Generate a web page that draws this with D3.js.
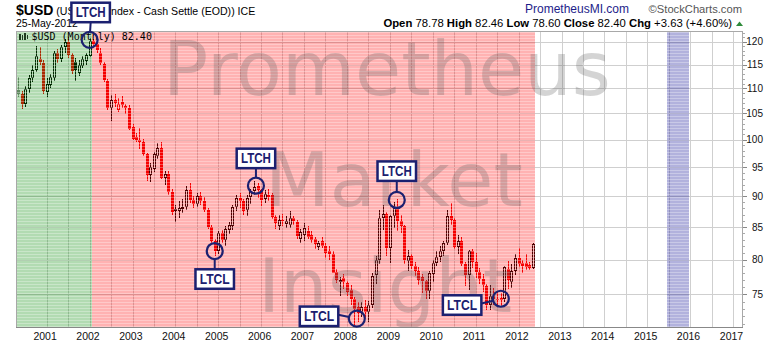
<!DOCTYPE html>
<html>
<head>
<meta charset="utf-8">
<script src="https://cdn.jsdelivr.net/npm/d3@7"></script>
<style>
  html, body { margin: 0; padding: 0; background: #fff; }
  svg { display: block; }
</style>
</head>
<body>
<svg id="chart" width="780" height="345"></svg>
<script>
// ---- US Dollar Index, monthly candles ----
const months = [
  "2000-05","2000-06","2000-07","2000-08","2000-09","2000-10","2000-11","2000-12",
  "2001-01","2001-02","2001-03","2001-04","2001-05","2001-06","2001-07","2001-08","2001-09","2001-10","2001-11","2001-12",
  "2002-01","2002-02","2002-03","2002-04","2002-05","2002-06","2002-07","2002-08","2002-09","2002-10","2002-11","2002-12",
  "2003-01","2003-02","2003-03","2003-04","2003-05","2003-06","2003-07","2003-08","2003-09","2003-10","2003-11","2003-12",
  "2004-01","2004-02","2004-03","2004-04","2004-05","2004-06","2004-07","2004-08","2004-09","2004-10","2004-11","2004-12",
  "2005-01","2005-02","2005-03","2005-04","2005-05","2005-06","2005-07","2005-08","2005-09","2005-10","2005-11","2005-12",
  "2006-01","2006-02","2006-03","2006-04","2006-05","2006-06","2006-07","2006-08","2006-09","2006-10","2006-11","2006-12",
  "2007-01","2007-02","2007-03","2007-04","2007-05","2007-06","2007-07","2007-08","2007-09","2007-10","2007-11","2007-12",
  "2008-01","2008-02","2008-03","2008-04","2008-05","2008-06","2008-07","2008-08","2008-09","2008-10","2008-11","2008-12",
  "2009-01","2009-02","2009-03","2009-04","2009-05","2009-06","2009-07","2009-08","2009-09","2009-10","2009-11","2009-12",
  "2010-01","2010-02","2010-03","2010-04","2010-05","2010-06","2010-07","2010-08","2010-09","2010-10","2010-11","2010-12",
  "2011-01","2011-02","2011-03","2011-04","2011-05","2011-06","2011-07","2011-08","2011-09","2011-10","2011-11","2011-12",
  "2012-01","2012-02","2012-03","2012-04","2012-05"
];

const opens = [
  109.6,108.8,106.9,109.9,112.1,113.9,116.2,115.4,
  109.2,110.8,112.2,117.4,116.1,118.8,119.9,117.1,115.6,113.2,114.7,115.8,
  116.9,120.2,119.4,117.6,115.2,111.5,106.1,107.6,105.7,107.2,106.4,106.1,
  102.4,100.5,100.0,99.6,97.3,93.6,94.7,97.1,98.4,93.1,93.9,90.8,
  87.9,87.6,88.0,88.2,91.1,89.4,88.8,90.0,89.2,87.8,85.0,82.9,
  81.3,84.0,83.0,84.6,85.2,88.2,89.7,89.2,87.8,89.9,90.9,91.8,
  91.1,89.5,89.9,90.2,86.6,85.2,86.2,85.5,85.4,86.4,85.8,83.2,
  83.7,84.4,83.7,83.1,81.9,82.8,82.0,81.3,80.9,78.2,76.8,77.3,
  76.6,75.6,74.3,73.3,72.5,73.2,72.6,73.6,77.7,80.0,86.5,87.1,
  81.8,86.7,88.1,86.0,85.1,79.8,80.5,79.1,78.4,77.4,76.9,75.5,
  77.9,79.5,80.4,81.3,82.5,86.7,86.1,81.9,82.8,79.3,77.8,81.3,
  79.6,78.2,77.2,76.2,73.5,74.8,74.4,74.5,74.4,78.7,76.8,78.4,
  80.2,79.5,79.5,79.2,78.78
];

const highs = [
  112.4,109.5,110.4,112.8,114.8,119.0,118.8,115.9,
  112.1,113.0,117.9,118.4,119.3,120.6,121.0,117.6,116.3,116.0,116.8,117.6,
  120.8,120.6,120.1,118.6,115.6,112.0,108.6,108.9,108.0,108.5,106.9,106.6,
  102.9,101.3,102.2,100.2,97.6,95.8,97.8,99.4,99.5,94.4,94.3,91.2,
  88.6,89.2,89.6,91.8,92.3,90.0,90.6,90.8,89.9,88.0,85.4,83.2,
  84.4,84.6,85.2,85.8,88.6,90.2,90.6,89.6,90.2,91.3,92.6,92.2,
  91.3,91.1,91.2,90.6,86.9,86.9,87.1,86.7,87.6,86.8,86.1,84.7,
  85.7,85.2,84.4,83.4,82.8,83.5,82.5,82.1,81.3,78.6,77.5,77.9,
  76.9,76.3,74.6,74.0,74.0,74.2,74.1,78.0,80.6,87.7,88.5,87.4,
  87.0,89.0,89.6,86.9,85.4,81.5,80.8,79.6,78.9,77.9,77.1,78.4,
  79.9,81.3,82.1,82.9,87.8,88.9,86.4,83.7,83.4,79.6,81.5,81.6,
  81.0,78.8,77.9,76.5,76.3,75.9,75.5,75.2,79.0,79.8,79.4,80.8,
  81.8,80.0,80.8,79.7,82.46
];

const lows = [
  108.3,105.8,106.3,109.0,111.4,113.4,115.0,108.9,
  108.2,110.0,111.5,115.3,115.6,117.6,116.4,112.9,111.6,112.6,114.2,114.9,
  116.6,118.9,117.4,114.9,111.4,105.6,103.6,106.3,105.3,106.0,104.9,101.8,
  99.9,99.5,98.2,97.0,92.6,92.5,94.2,96.5,92.9,92.0,90.3,86.9,
  85.8,86.5,87.2,87.7,88.9,88.1,88.3,88.6,87.4,84.7,82.6,80.6,
  80.9,82.5,82.0,83.9,84.6,87.6,88.0,86.9,86.8,88.8,90.3,89.7,
  88.4,88.9,89.3,86.3,84.7,84.6,85.2,84.9,84.9,85.3,83.2,82.6,
  82.9,83.2,82.6,81.6,81.4,81.8,80.3,79.9,78.0,76.6,74.8,75.8,
  74.8,73.6,70.8,71.3,71.9,71.8,71.3,73.1,76.4,79.3,84.5,80.6,
  79.5,84.9,84.4,84.0,79.4,78.4,78.6,77.6,76.3,75.2,74.3,74.3,
  76.8,79.0,79.6,80.5,82.2,85.3,81.6,80.9,79.0,76.2,75.6,78.8,
  77.3,76.4,75.3,72.9,72.9,73.6,73.6,73.3,73.9,75.7,75.9,77.7,
  78.9,78.1,78.5,78.5,78.60
];

const closes = [
  108.8,106.8,109.9,112.2,113.9,116.8,115.6,109.4,
  110.9,112.4,117.4,116.1,118.8,119.9,117.1,113.6,113.9,115.0,116.2,117.0,
  120.2,119.4,118.2,115.3,111.8,106.0,107.6,107.1,106.9,106.7,106.1,102.0,
  100.2,100.0,99.6,97.4,93.6,95.0,97.4,98.4,93.1,93.8,90.7,87.4,
  87.6,88.0,88.3,91.1,89.4,88.8,90.0,89.3,87.8,85.0,82.9,81.3,
  84.0,83.0,84.7,85.3,88.3,89.7,89.2,87.6,89.8,90.9,91.6,91.1,
  89.4,90.4,90.2,86.6,85.6,86.2,85.9,86.0,86.4,85.9,83.6,84.2,
  84.9,83.5,83.0,82.3,82.6,82.1,81.0,80.9,78.1,77.0,77.1,76.8,
  75.4,74.3,73.0,72.4,73.3,72.6,73.5,77.6,79.9,86.4,87.1,81.8,
  86.8,88.1,86.0,85.1,79.9,80.5,79.0,78.4,77.1,76.9,75.5,78.0,
  79.5,80.4,81.3,82.6,86.7,86.2,81.9,82.8,79.3,77.8,81.3,79.6,
  78.2,77.2,76.3,73.6,74.8,74.4,74.3,74.2,78.9,77.0,78.4,80.2,
  79.4,79.0,78.9,78.77,82.40
];

// axis ticks
const yTicks = [75, 80, 85, 90, 95, 100, 105, 110, 115, 120];
const yearTicks = [2001,2002,2003,2004,2005,2006,2007,2008,2009,2010,2011,2012,2013,2014,2015,2016,2017];

// shaded periods
const zoneStarts = ["2000-04-28", "2002-02-01", "2015-07-01"];
const zoneEnds   = ["2002-02-01", "2012-06-01", "2016-01-01"];
const zoneKinds  = ["green", "red", "blue"];

// long-term cycle highs / lows
const noteLabels = ["LTCH", "LTCL", "LTCH", "LTCL", "LTCH", "LTCL"];
const noteDates  = ["2002-01-15", "2004-12-15", "2005-12-01", "2008-04-08", "2009-03-14", "2011-08-17"];
const noteValues = [120.4, 81.3, 91.8, 71.7, 89.4, 74.4];

const headerChangePct = 4.60;
const watermarkLines = ["Prometheus", "Market", "Insight"];

// ---- layout ----
const plot = { left: 16, right: 743, top: 31, bottom: 328 };
const SANS = "'Liberation Sans', Arial, Helvetica, sans-serif";
const NAVY = "#1b2070";
const zoneColors = { green: "#008a00", red: "#ff0000", blue: "#000090" };
const noteBoxOffsets = [[1, -27.4], [0, 28], [0, -27.3], [-37.8, -2.3], [0, -28.8], [-38.7, 6.3]];
const watermarkPos = [[163, 95], [265, 206], [258, 312]];

const parse = s => { const p = s.split("-").map(Number); return new Date(Date.UTC(p[0], p[1] - 1, p[2] || 15)); };

const svg = d3.select("#chart");

const x = d3.scaleUtc()
  .domain([new Date(Date.UTC(2000, 3, 28)), new Date(Date.UTC(2017, 3, 9))])
  .range([plot.left, plot.right]);
const y = d3.scaleLog()
  .domain([70.46, 122.4])
  .range([plot.bottom, plot.top]);

// striped fills for the shaded periods
const defs = svg.append("defs");
Object.entries(zoneColors).forEach(([k, c]) => {
  const p = defs.append("pattern").attr("id", "zone-" + k)
    .attr("patternUnits", "userSpaceOnUse").attr("width", 8).attr("height", 3);
  p.append("rect").attr("width", 8).attr("height", 3).attr("fill", c).attr("fill-opacity", 0.3);
  p.append("rect").attr("y", 2).attr("width", 8).attr("height", 1).attr("fill", "#fff").attr("fill-opacity", 0.3);
});
defs.append("clipPath").attr("id", "plot-clip").append("rect")
  .attr("x", plot.left).attr("y", plot.top)
  .attr("width", plot.right - plot.left).attr("height", plot.bottom - plot.top);

svg.append("rect").attr("width", 780).attr("height", 345).attr("fill", "#fff");

// ---- grid ----
const grid = svg.append("g").attr("shape-rendering", "crispEdges").attr("stroke", "#cfcfcf").attr("stroke-width", 1);
const gridDates = [];
yearTicks.forEach(yr => { gridDates.push(new Date(Date.UTC(yr, 0, 15))); gridDates.push(new Date(Date.UTC(yr, 6, 15))); });
grid.selectAll("line.v").data(gridDates.filter(d => x(d) < plot.right - 1)).join("line")
  .attr("x1", d => Math.round(x(d)) + 0.5).attr("x2", d => Math.round(x(d)) + 0.5)
  .attr("y1", plot.top).attr("y2", plot.bottom);
grid.selectAll("line.h").data(yTicks).join("line")
  .attr("x1", plot.left).attr("x2", plot.right)
  .attr("y1", d => Math.round(y(d)) + 0.5).attr("y2", d => Math.round(y(d)) + 0.5);

// ---- candles ----
const candles = months.map((m, i) => ({
  date: parse(m), o: opens[i], h: highs[i], l: lows[i], c: closes[i],
  prev: i ? closes[i - 1] : null
}));
const cg = svg.append("g").attr("clip-path", "url(#plot-clip)").attr("shape-rendering", "crispEdges");
candles.forEach(d => {
  const col = d.prev == null ? "#8a8a8a" : (d.c >= d.prev ? "#000" : "#f00000");
  const cx = Math.round(x(d.date));
  const yTop = Math.round(y(Math.max(d.o, d.c)));
  const yBot = Math.round(y(Math.min(d.o, d.c)));
  const yH = Math.round(y(d.h)), yL = Math.round(y(d.l));
  cg.append("rect").attr("x", cx).attr("width", 1).attr("y", yH).attr("height", Math.max(1, yL - yH)).attr("fill", col);
  if (d.c > d.o) {
    cg.append("rect").attr("x", cx - 0.5).attr("y", yTop + 0.5)
      .attr("width", 2).attr("height", Math.max(1, yBot - yTop - 1))
      .attr("fill", "#fff").attr("stroke", col).attr("stroke-width", 1);
  } else {
    cg.append("rect").attr("x", cx - 1).attr("y", yTop)
      .attr("width", 3).attr("height", Math.max(1, yBot - yTop)).attr("fill", col);
  }
});

// ---- shaded periods ----
svg.append("g").attr("shape-rendering", "crispEdges").selectAll("rect")
  .data(zoneKinds.map((k, i) => ({ k, s: parse(zoneStarts[i]), e: parse(zoneEnds[i]) })))
  .join("rect")
  .attr("x", d => Math.max(plot.left, Math.round(x(d.s))))
  .attr("width", d => Math.round(x(d.e)) - Math.max(plot.left, Math.round(x(d.s))))
  .attr("y", plot.top).attr("height", plot.bottom - plot.top)
  .attr("fill", d => "url(#zone-" + d.k + ")");

// ---- watermark ----
svg.append("g").selectAll("text").data(watermarkLines).join("text")
  .attr("x", (d, i) => watermarkPos[i][0]).attr("y", (d, i) => watermarkPos[i][1])
  .attr("font-family", "'DejaVu Sans', Verdana, sans-serif").attr("font-size", 75)
  .attr("fill", "#5a5a5a").attr("fill-opacity", 0.26)
  .attr("clip-path", "url(#plot-clip)")
  .text(d => d);

// ---- frame and axes ----
const frame = svg.append("g").attr("shape-rendering", "crispEdges");
frame.append("rect").attr("x", plot.left + 0.5).attr("y", plot.top + 0.5)
  .attr("width", plot.right - plot.left - 1).attr("height", plot.bottom - plot.top - 1)
  .attr("fill", "none").attr("stroke", "#a8a8a8");
frame.append("line").attr("x1", plot.left).attr("x2", plot.right)
  .attr("y1", plot.bottom - 0.5).attr("y2", plot.bottom - 0.5).attr("stroke", "#888");

// minor and major ticks on the price axis
const minor = d3.range(71, 123);
frame.selectAll("line.minor").data(minor).join("line")
  .attr("x1", plot.right).attr("x2", plot.right + 2)
  .attr("y1", d => Math.round(y(d)) + 0.5).attr("y2", d => Math.round(y(d)) + 0.5)
  .attr("stroke", "#aaa");
frame.selectAll("line.major").data(yTicks).join("line")
  .attr("x1", plot.right).attr("x2", plot.right + 4)
  .attr("y1", d => Math.round(y(d)) + 0.5).attr("y2", d => Math.round(y(d)) + 0.5)
  .attr("stroke", "#888");

svg.append("g").selectAll("text").data(yTicks).join("text")
  .attr("x", 763).attr("y", d => y(d) + 3.6)
  .attr("text-anchor", "end").attr("font-family", SANS).attr("font-size", 10).attr("fill", "#111")
  .text(d => d);

svg.append("g").selectAll("text").data(yearTicks).join("text")
  .attr("x", d => x(new Date(Date.UTC(d, 0, 1)))).attr("y", 339.5)
  .attr("text-anchor", "middle").attr("font-family", SANS).attr("font-size", 10.5).attr("fill", "#111")
  .text(d => d);

// ---- header ----
const last = candles[candles.length - 1];
const fmt = d3.format(".2f");
const t1 = svg.append("text").attr("x", 16).attr("y", 15).attr("font-family", SANS).attr("fill", "#000");
t1.append("tspan").attr("font-weight", "bold").attr("font-size", 14).text("$USD");
t1.append("tspan").attr("font-size", 10.6).text(" (US Dollar Index - Cash Settle (EOD)) ICE");
svg.append("text").attr("x", 16).attr("y", 27).attr("font-family", SANS).attr("font-size", 10.5)
  .attr("fill", "#000").text("25-May-2012");

svg.append("text").attr("x", 525).attr("y", 13).attr("font-family", SANS).attr("font-size", 12)
  .attr("fill", "#1d1d8a").text("PrometheusMI.com");
svg.append("text").attr("x", 742).attr("y", 13).attr("text-anchor", "end").attr("font-family", SANS)
  .attr("font-size", 11.2).attr("fill", "#555").text("\u00A9StockCharts.com");

const chg = last.c - last.prev;
const t2 = svg.append("text").attr("x", 732).attr("y", 26.5).attr("text-anchor", "end")
  .attr("font-family", SANS).attr("font-size", 11.3).attr("fill", "#000");
[["Open", fmt(last.o)], ["High", fmt(last.h)], ["Low", fmt(last.l)], ["Close", fmt(last.c)]].forEach(([k, v]) => {
  t2.append("tspan").attr("font-weight", "bold").text(k + " ");
  t2.append("tspan").text(v + " ");
});
t2.append("tspan").attr("font-weight", "bold").text("Chg ");
t2.append("tspan").text((chg >= 0 ? "+" : "") + fmt(chg) + " (+" + fmt(headerChangePct) + "%)");
svg.append("path").attr("d", "M736,26 L739.5,21.5 L743,26 Z").attr("fill", "#2e8b3a");

// in-plot legend
const lg = svg.append("g").attr("shape-rendering", "crispEdges");
lg.append("rect").attr("x", 19).attr("y", 34).attr("width", 2).attr("height", 6).attr("fill", "#1f3a1f");
lg.append("rect").attr("x", 22).attr("y", 35).attr("width", 1).attr("height", 5).attr("fill", "#1f3a1f");
lg.append("rect").attr("x", 24).attr("y", 33).attr("width", 2).attr("height", 7).attr("fill", "#1f3a1f");
lg.append("rect").attr("x", 27).attr("y", 35).attr("width", 1).attr("height", 4).attr("fill", "#1f3a1f");
svg.append("text").attr("x", 31.5).attr("y", 40).attr("font-family", "'DejaVu Sans Mono', monospace")
  .attr("font-size", 10).attr("fill", "#000").text("$USD (Monthly) " + fmt(last.c));

// ---- cycle annotations ----
const R = 8, BW = 38.5, BH = 19.5;
const ng = svg.append("g");
noteLabels.forEach((lab, i) => {
  const cx = x(parse(noteDates[i])), cy = y(noteValues[i]);
  const bx = cx + noteBoxOffsets[i][0], by = cy + noteBoxOffsets[i][1];
  const dx = bx - cx, dy = by - cy;
  let sx, sy;
  if (Math.abs(dy) > Math.abs(dx)) { sx = bx; sy = by + (dy > 0 ? -BH / 2 : BH / 2); }
  else { sx = bx + (dx > 0 ? -BW / 2 : BW / 2); sy = by - 1.5; }
  const len = Math.hypot(sx - cx, sy - cy);
  const ex = cx + R * (sx - cx) / len, ey = cy + R * (sy - cy) / len;
  ng.append("line").attr("x1", sx).attr("y1", sy).attr("x2", ex).attr("y2", ey)
    .attr("stroke", NAVY).attr("stroke-width", 2);
  ng.append("circle").attr("cx", cx).attr("cy", cy).attr("r", R)
    .attr("fill", "none").attr("stroke", NAVY).attr("stroke-width", 2.2);
  ng.append("rect").attr("x", bx - BW / 2).attr("y", by - BH / 2).attr("width", BW).attr("height", BH)
    .attr("fill", "#fff").attr("stroke", NAVY).attr("stroke-width", 2.5);
  ng.append("text").attr("x", bx).attr("y", by + 5).attr("text-anchor", "middle")
    .attr("font-family", SANS).attr("font-weight", "bold").attr("font-size", 14)
    .attr("textLength", 30).attr("lengthAdjust", "spacingAndGlyphs")
    .attr("fill", NAVY).text(lab);
});
</script>
</body>
</html>
